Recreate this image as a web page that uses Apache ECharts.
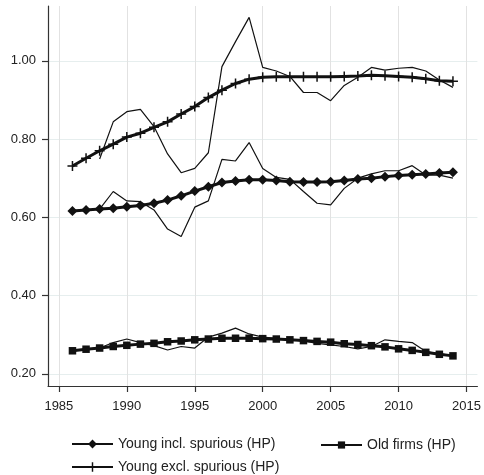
<!DOCTYPE html>
<html>
<head>
<meta charset="utf-8">
<script src="https://cdn.jsdelivr.net/npm/echarts@6/dist/echarts.min.js"></script>
<style>
  html, body { margin: 0; padding: 0; background: #fff; }
  #chart { width: 484px; height: 475px; }
</style>
</head>
<body>
<div id="chart"></div>
<script>
// Survival-share series, 1986-2014: raw annual values and their HP-filtered trends
const years = [1986, 1987, 1988, 1989, 1990, 1991, 1992, 1993, 1994, 1995, 1996, 1997, 1998, 1999, 2000,
  2001, 2002, 2003, 2004, 2005, 2006, 2007, 2008, 2009, 2010, 2011, 2012, 2013, 2014];

const youngInclHP = [0.616, 0.619, 0.621, 0.623, 0.627, 0.630, 0.636, 0.644, 0.655, 0.667, 0.678, 0.689, 0.693, 0.696, 0.696,
  0.694, 0.691, 0.690, 0.690, 0.691, 0.694, 0.698, 0.700, 0.704, 0.707, 0.709, 0.711, 0.713, 0.715];
const youngInclRaw = [null, null, 0.621, 0.666, 0.642, 0.640, 0.619, 0.570, 0.551, 0.626, 0.642, 0.748, 0.744, 0.791, 0.725,
  0.702, 0.697, 0.666, 0.636, 0.632, 0.674, 0.700, 0.711, 0.719, 0.719, 0.732, 0.708, 0.708, 0.700];

const youngExclHP = [0.731, 0.751, 0.770, 0.787, 0.805, 0.815, 0.830, 0.844, 0.864, 0.883, 0.906, 0.925, 0.942, 0.953, 0.958,
  0.959, 0.959, 0.959, 0.959, 0.959, 0.960, 0.961, 0.963, 0.962, 0.960, 0.958, 0.954, 0.949, 0.948];
const youngExclRaw = [null, null, 0.749, 0.844, 0.870, 0.876, 0.832, 0.762, 0.714, 0.725, 0.765, 0.985, 1.049, 1.111, 0.983,
  0.974, 0.960, 0.919, 0.919, 0.898, 0.937, 0.958, 0.983, 0.976, 0.981, 0.983, 0.974, 0.951, 0.932];

const oldHP = [0.259, 0.263, 0.266, 0.270, 0.273, 0.276, 0.278, 0.282, 0.284, 0.287, 0.289, 0.291, 0.291, 0.291, 0.290,
  0.289, 0.287, 0.285, 0.283, 0.281, 0.277, 0.275, 0.272, 0.269, 0.264, 0.260, 0.255, 0.250, 0.246];
const oldRaw = [null, null, 0.266, 0.280, 0.289, 0.280, 0.272, 0.261, 0.270, 0.266, 0.294, 0.304, 0.317, 0.302, 0.294,
  0.291, 0.287, 0.284, 0.278, 0.274, 0.270, 0.264, 0.270, 0.287, 0.283, 0.280, 0.257, 0.251, 0.247];

const xTicks = [1985, 1990, 1995, 2000, 2005, 2010, 2015];
const yTicks = [0.2, 0.4, 0.6, 0.8, 1.0];

const NAME_INCL = 'Young incl. spurious (HP)';
const NAME_OLD = 'Old firms (HP)';
const NAME_EXCL = 'Young excl. spurious (HP)';

const FONT = 'Liberation Sans, Arial, sans-serif';
const INK = '#111';

const pairs = vals => years.map((y, i) => [y, vals[i]]);

// "+" marker drawn as a filled outline so it renders with ECharts' symbol fill
const PLUS = 'path://M-0.15,-1H0.15V-0.15H1V0.15H0.15V1H-0.15V0.15H-1V-0.15H-0.15Z';

function trend(name, vals, symbol, size) {
  return {
    name, type: 'line', data: pairs(vals), z: 3,
    symbol, symbolSize: size, showAllSymbol: true,
    lineStyle: { color: INK, width: 3 },
    itemStyle: { color: INK, borderWidth: 0 },
    emphasis: { disabled: true }
  };
}
function raw(name, vals) {
  return {
    name, type: 'line', data: pairs(vals), z: 2,
    symbol: 'none', connectNulls: false,
    lineStyle: { color: INK, width: 1.2 },
    emphasis: { disabled: true }
  };
}
function legendAt(left, top, name, iconH) {
  return {
    left, top, data: [name], itemWidth: 41, itemHeight: iconH, itemGap: 10,
    textStyle: { fontFamily: FONT, fontSize: 14, color: '#222' },
    selectedMode: false
  };
}

const chart = echarts.init(document.getElementById('chart'), null, { renderer: 'canvas' });
chart.setOption({
  animation: false,
  backgroundColor: '#fff',
  grid: { left: 48, right: 5, top: 6, bottom: 89, containLabel: false },
  xAxis: {
    type: 'value', min: 1984.2, max: 2015.8,
    axisLine: { show: true, lineStyle: { color: '#333', width: 1.2 } },
    axisTick: { show: true, customValues: xTicks, length: 6, lineStyle: { color: '#333', width: 1.2 } },
    axisLabel: { customValues: xTicks, margin: 14, fontFamily: FONT, fontSize: 13, color: '#222',
      formatter: v => String(v) },
    splitLine: { show: true, lineStyle: { color: '#e2e2e2', width: 1 } }
  },
  yAxis: {
    type: 'value', min: 0.169, max: 1.14,
    axisLine: { show: true, lineStyle: { color: '#333', width: 1.2 } },
    axisTick: { show: true, customValues: yTicks, length: 6, lineStyle: { color: '#333', width: 1.2 } },
    axisLabel: { customValues: yTicks, margin: 12, fontFamily: FONT, fontSize: 13, color: '#222',
      formatter: v => v.toFixed(2) },
    splitLine: { show: true, lineStyle: { color: '#e6eeee', width: 1 } }
  },
  legend: [
    legendAt(66, 432, NAME_INCL, 11),
    legendAt(315, 433, NAME_OLD, 9),
    legendAt(66, 455, NAME_EXCL, 12)
  ],
  series: [
    raw('Young incl. spurious', youngInclRaw),
    raw('Young excl. spurious', youngExclRaw),
    raw('Old firms', oldRaw),
    trend(NAME_INCL, youngInclHP, 'diamond', 10),
    trend(NAME_OLD, oldHP, 'rect', 7.5),
    trend(NAME_EXCL, youngExclHP, PLUS, 10)
  ]
});
</script>
</body>
</html>
